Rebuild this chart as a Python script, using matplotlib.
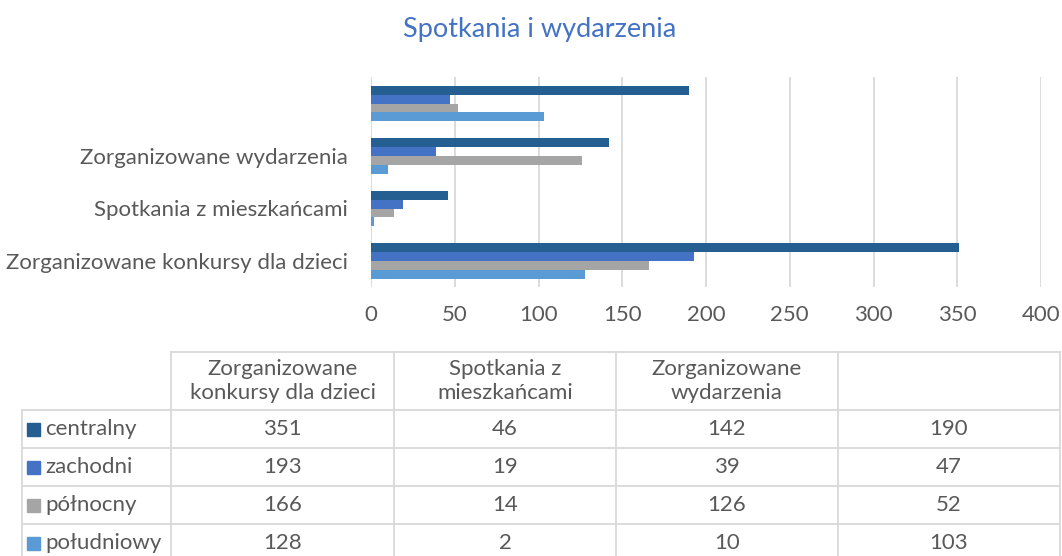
import matplotlib
matplotlib.use("Agg")
import matplotlib.pyplot as plt
from matplotlib.patches import Rectangle
import numpy as np

plt.rcParams['font.family'] = ['Lato', 'DejaVu Sans']

# data
categories = ["Zorganizowane konkursy dla dzieci", "Spotkania z mieszkańcami",
              "Zorganizowane wydarzenia", ""]
header_labels = ["Zorganizowane\nkonkursy dla dzieci", "Spotkania z\nmieszkańcami",
                 "Zorganizowane\nwydarzenia", ""]
series_names = ["centralny", "zachodni", "północny", "południowy"]
centralny = [351, 46, 142, 190]
zachodni = [193, 19, 39, 47]
polnocny = [166, 14, 126, 52]
poludniowy = [128, 2, 10, 103]
x_ticks = [0, 50, 100, 150, 200, 250, 300, 350, 400]

colors = ["#255E91", "#4472C4", "#A5A5A5", "#5B9BD5"]
text_col = "#595959"
grid_col = "#D9D9D9"
fs = 16

W, H = 1062, 556
fig = plt.figure(figsize=(W / 100, H / 100), dpi=100)

ax = fig.add_axes([371 / W, 1 - 287.25 / H, (1041 - 371) / W, 210 / H])
series = [centralny, zachodni, polnocny, poludniowy]
y = np.arange(len(categories))
h = 0.171
offsets = [1.5, 0.5, -0.5, -1.5]
for vals, off, col, name in zip(series, offsets, colors, series_names):
    ax.barh(y + off * h, vals, height=h, color=col, label=name, zorder=3)

ax.set_xlim(0, 400)
ax.set_ylim(-0.5, 3.5)
ax.set_xticks(x_ticks)
ax.set_yticks(y)
ax.set_yticklabels(categories)
ax.tick_params(axis='both', length=0, labelsize=fs, colors=text_col)
ax.tick_params(axis='y', pad=16.5)
ax.tick_params(axis='x', pad=13)
ax.grid(axis='x', color=grid_col, linewidth=1.3, zorder=0)
for s in ax.spines.values():
    s.set_visible(False)

fig.text(540 / W, 1 - 30 / H, "Spotkania i wydarzenia", ha='center', va='center',
         fontsize=19.5, color="#4472C4")

# data table drawn in pixel coordinates
tab = fig.add_axes([0, 0, 1, 1])
tab.set_xlim(0, W)
tab.set_ylim(H, 0)
tab.axis('off')

col_x = [22, 171, 394, 616, 838, 1060]
row_y = [352, 410, 448, 486, 524, 562]

# horizontal lines
tab.plot([col_x[1], col_x[-1]], [row_y[0], row_y[0]], color=grid_col, lw=1.3)
for yy in row_y[1:]:
    tab.plot([col_x[0], col_x[-1]], [yy, yy], color=grid_col, lw=1.3)
# vertical lines
tab.plot([col_x[0], col_x[0]], [row_y[1], row_y[-1]], color=grid_col, lw=1.3)
for xx in col_x[1:]:
    tab.plot([xx, xx], [row_y[0], row_y[-1]], color=grid_col, lw=1.3)

for j, lab in enumerate(header_labels):
    cx = (col_x[j + 1] + col_x[j + 2]) / 2
    tab.text(cx, (row_y[0] + row_y[1]) / 2, lab, ha='center', va='center',
             fontsize=fs, color=text_col, linespacing=1.3)

for i, (name, vals, col) in enumerate(zip(series_names, series, colors)):
    cy = (row_y[i + 1] + row_y[i + 2]) / 2
    tab.add_patch(Rectangle((27, cy - 6.5), 13, 13, color=col))
    tab.text(45, cy, name, ha='left', va='center', fontsize=fs, color=text_col)
    for j, v in enumerate(vals):
        cx = (col_x[j + 1] + col_x[j + 2]) / 2
        tab.text(cx, cy, str(v), ha='center', va='center', fontsize=fs, color=text_col)

fig.savefig("out.png", dpi=100)
